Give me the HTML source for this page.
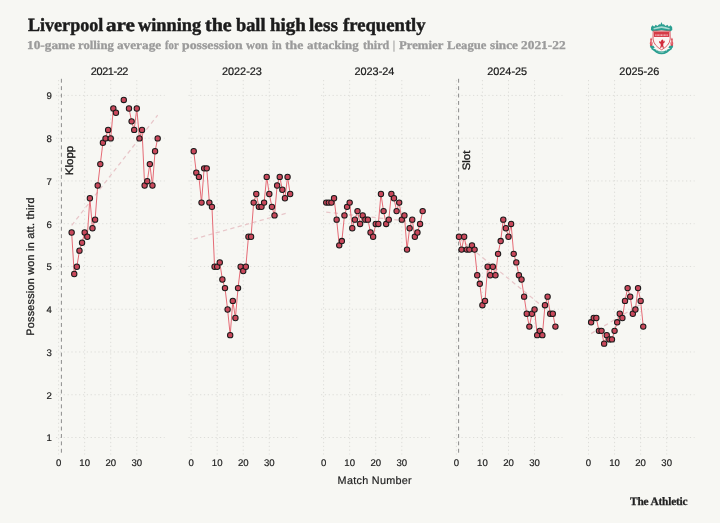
<!DOCTYPE html>
<html><head><meta charset="utf-8"><title>Liverpool are winning the ball high less frequently</title>
<style>
html,body{margin:0;padding:0;}
body{width:720px;height:523px;background:#f7f7f3;position:relative;overflow:hidden;font-family:"Liberation Sans",sans-serif;color:#1a1a1a;}
.wrap{position:absolute;left:0;top:0;width:720px;height:523px;will-change:transform;background:#f7f7f3;text-rendering:geometricPrecision}
.g{stroke:#ddddd9;stroke-width:1;stroke-dasharray:1.25 2.6;fill:none}
.m{stroke:#8c8c8c;stroke-width:1.0;stroke-dasharray:3.9 3.5;fill:none}
.t{stroke:#e8c6c9;stroke-width:1.25;stroke-dasharray:4.3 3.3;fill:none}
.l{stroke:#e4636f;stroke-width:0.95;fill:none;stroke-linejoin:round}
.c{fill:#c9485b;stroke:#1a1a1a;stroke-width:1.02}
.title span,.sub span{position:absolute;top:0;display:block;transform-origin:0 0;white-space:nowrap}
.title{position:absolute;left:27px;top:14.5px;font:bold 18.6px "Liberation Serif",serif;color:#1c1c1c;white-space:nowrap;line-height:22px;-webkit-text-stroke:0.45px #1c1c1c}
.sub{position:absolute;left:27px;top:37.9px;font:bold 12px "Liberation Serif",serif;color:#9b9b9b;white-space:nowrap;line-height:14px;-webkit-text-stroke:0.3px #9b9b9b}
.xt{position:absolute;top:457.9px;width:30px;text-align:center;font-size:9.6px;line-height:12px;color:#1e1e1e;-webkit-text-stroke:0.2px #1e1e1e}
.yt{position:absolute;left:20px;width:31.8px;text-align:right;font-size:9.6px;line-height:12px;color:#1e1e1e;-webkit-text-stroke:0.2px #1e1e1e}
.pt{position:absolute;top:65.9px;width:80px;text-align:center;font-size:10.9px;line-height:12px;color:#1a1a1a;-webkit-text-stroke:0.22px #1a1a1a}
.xl{position:absolute;left:324.8px;width:100px;top:475.45px;text-align:center;font-size:10.8px;line-height:13px;letter-spacing:0.3px;color:#1e1e1e;white-space:nowrap;-webkit-text-stroke:0.18px #1e1e1e}
.yl{position:absolute;left:31.2px;top:266.5px;width:0;height:0;}
.yl span{position:absolute;display:block;width:200px;left:-100px;top:-6.5px;text-align:center;font-size:10.8px;letter-spacing:0.25px;line-height:13px;transform:rotate(-90deg);-webkit-text-stroke:0.28px #1e1e1e;white-space:nowrap;color:#222}
.rot{position:absolute;width:0;height:0}
.rot span{position:absolute;display:block;width:80px;left:-40px;top:-6.5px;text-align:center;font-size:10.7px;line-height:13px;transform:rotate(-90deg) scaleX(1.07);white-space:nowrap;color:#1c1c1c;-webkit-text-stroke:0.35px #1c1c1c}
.logo{position:absolute;left:630px;top:496.2px;font:bold 11.4px "Liberation Serif",serif;letter-spacing:-0.2px;color:#222;-webkit-text-stroke:0.25px #222;white-space:nowrap;line-height:13px}
</style></head><body><div class="wrap">
<svg width="720" height="523" viewBox="0 0 720 523" style="position:absolute;left:0;top:0">
<line x1="55.99" x2="164.70" y1="437.50" y2="437.50" class="g"/>
<line x1="55.99" x2="164.70" y1="394.74" y2="394.74" class="g"/>
<line x1="55.99" x2="164.70" y1="351.98" y2="351.98" class="g"/>
<line x1="55.99" x2="164.70" y1="309.22" y2="309.22" class="g"/>
<line x1="55.99" x2="164.70" y1="266.46" y2="266.46" class="g"/>
<line x1="55.99" x2="164.70" y1="223.70" y2="223.70" class="g"/>
<line x1="55.99" x2="164.70" y1="180.94" y2="180.94" class="g"/>
<line x1="55.99" x2="164.70" y1="138.18" y2="138.18" class="g"/>
<line x1="55.99" x2="164.70" y1="95.42" y2="95.42" class="g"/>
<line x1="58.60" x2="58.60" y1="80.0" y2="454.5" class="g"/>
<line x1="84.67" x2="84.67" y1="80.0" y2="454.5" class="g"/>
<line x1="110.74" x2="110.74" y1="80.0" y2="454.5" class="g"/>
<line x1="136.81" x2="136.81" y1="80.0" y2="454.5" class="g"/>
<line x1="188.49" x2="297.20" y1="437.50" y2="437.50" class="g"/>
<line x1="188.49" x2="297.20" y1="394.74" y2="394.74" class="g"/>
<line x1="188.49" x2="297.20" y1="351.98" y2="351.98" class="g"/>
<line x1="188.49" x2="297.20" y1="309.22" y2="309.22" class="g"/>
<line x1="188.49" x2="297.20" y1="266.46" y2="266.46" class="g"/>
<line x1="188.49" x2="297.20" y1="223.70" y2="223.70" class="g"/>
<line x1="188.49" x2="297.20" y1="180.94" y2="180.94" class="g"/>
<line x1="188.49" x2="297.20" y1="138.18" y2="138.18" class="g"/>
<line x1="188.49" x2="297.20" y1="95.42" y2="95.42" class="g"/>
<line x1="191.10" x2="191.10" y1="80.0" y2="454.5" class="g"/>
<line x1="217.17" x2="217.17" y1="80.0" y2="454.5" class="g"/>
<line x1="243.24" x2="243.24" y1="80.0" y2="454.5" class="g"/>
<line x1="269.31" x2="269.31" y1="80.0" y2="454.5" class="g"/>
<line x1="320.99" x2="429.70" y1="437.50" y2="437.50" class="g"/>
<line x1="320.99" x2="429.70" y1="394.74" y2="394.74" class="g"/>
<line x1="320.99" x2="429.70" y1="351.98" y2="351.98" class="g"/>
<line x1="320.99" x2="429.70" y1="309.22" y2="309.22" class="g"/>
<line x1="320.99" x2="429.70" y1="266.46" y2="266.46" class="g"/>
<line x1="320.99" x2="429.70" y1="223.70" y2="223.70" class="g"/>
<line x1="320.99" x2="429.70" y1="180.94" y2="180.94" class="g"/>
<line x1="320.99" x2="429.70" y1="138.18" y2="138.18" class="g"/>
<line x1="320.99" x2="429.70" y1="95.42" y2="95.42" class="g"/>
<line x1="323.60" x2="323.60" y1="80.0" y2="454.5" class="g"/>
<line x1="349.67" x2="349.67" y1="80.0" y2="454.5" class="g"/>
<line x1="375.74" x2="375.74" y1="80.0" y2="454.5" class="g"/>
<line x1="401.81" x2="401.81" y1="80.0" y2="454.5" class="g"/>
<line x1="453.74" x2="562.45" y1="437.50" y2="437.50" class="g"/>
<line x1="453.74" x2="562.45" y1="394.74" y2="394.74" class="g"/>
<line x1="453.74" x2="562.45" y1="351.98" y2="351.98" class="g"/>
<line x1="453.74" x2="562.45" y1="309.22" y2="309.22" class="g"/>
<line x1="453.74" x2="562.45" y1="266.46" y2="266.46" class="g"/>
<line x1="453.74" x2="562.45" y1="223.70" y2="223.70" class="g"/>
<line x1="453.74" x2="562.45" y1="180.94" y2="180.94" class="g"/>
<line x1="453.74" x2="562.45" y1="138.18" y2="138.18" class="g"/>
<line x1="453.74" x2="562.45" y1="95.42" y2="95.42" class="g"/>
<line x1="456.35" x2="456.35" y1="80.0" y2="454.5" class="g"/>
<line x1="482.42" x2="482.42" y1="80.0" y2="454.5" class="g"/>
<line x1="508.49" x2="508.49" y1="80.0" y2="454.5" class="g"/>
<line x1="534.56" x2="534.56" y1="80.0" y2="454.5" class="g"/>
<line x1="585.89" x2="694.60" y1="437.50" y2="437.50" class="g"/>
<line x1="585.89" x2="694.60" y1="394.74" y2="394.74" class="g"/>
<line x1="585.89" x2="694.60" y1="351.98" y2="351.98" class="g"/>
<line x1="585.89" x2="694.60" y1="309.22" y2="309.22" class="g"/>
<line x1="585.89" x2="694.60" y1="266.46" y2="266.46" class="g"/>
<line x1="585.89" x2="694.60" y1="223.70" y2="223.70" class="g"/>
<line x1="585.89" x2="694.60" y1="180.94" y2="180.94" class="g"/>
<line x1="585.89" x2="694.60" y1="138.18" y2="138.18" class="g"/>
<line x1="585.89" x2="694.60" y1="95.42" y2="95.42" class="g"/>
<line x1="588.50" x2="588.50" y1="80.0" y2="454.5" class="g"/>
<line x1="614.57" x2="614.57" y1="80.0" y2="454.5" class="g"/>
<line x1="640.64" x2="640.64" y1="80.0" y2="454.5" class="g"/>
<line x1="666.71" x2="666.71" y1="80.0" y2="454.5" class="g"/>
<line x1="61.4" x2="61.4" y1="78.8" y2="454.5" class="m"/>
<line x1="458.6" x2="458.6" y1="78.8" y2="454.5" class="m"/>
<line x1="71.64" y1="225.41" x2="157.67" y2="115.09" class="t"/>
<line x1="193.71" y1="239.09" x2="288.60" y2="212.58" class="t"/>
<line x1="326.21" y1="212.15" x2="422.67" y2="222.84" class="t"/>
<line x1="458.96" y1="238.24" x2="555.42" y2="316.92" class="t"/>
<line x1="591.11" y1="333.59" x2="643.25" y2="302.81" class="t"/>
<polyline class="l" points="71.64,232.50 74.24,273.98 76.85,266.71 79.46,250.68 82.06,242.76 84.67,232.50 87.28,236.78 89.88,198.29 92.49,228.23 95.10,219.67 97.71,185.47 100.31,164.09 102.92,142.71 105.53,138.43 108.13,129.88 110.74,138.43 113.35,108.50 115.95,112.77"/>
<polyline class="l" points="128.99,108.50 131.60,121.33 134.20,129.88 136.81,108.50 139.42,138.43 142.02,129.88 144.63,185.47 147.24,181.19 149.84,164.09 152.45,185.47 155.06,151.26 157.67,138.43"/>
<polyline class="l" points="193.71,151.26 196.31,172.64 198.92,176.91 201.53,202.57 204.13,168.36 206.74,168.36 209.35,202.57 211.96,206.85 214.56,266.71 217.17,266.71 219.78,262.43 222.38,279.54 224.99,288.09 227.60,309.47 230.20,335.13 232.81,300.92 235.42,318.02 238.03,288.09 240.63,266.71 243.24,270.99 245.85,266.71 248.45,236.78 251.06,236.78 253.67,202.57 256.27,194.02 258.88,206.85 261.49,206.85 264.10,202.57 266.70,176.91 269.31,194.02 271.92,206.85 274.52,215.40 277.13,185.47 279.74,176.91 282.35,189.74 284.95,198.29 287.56,176.91 290.17,194.02"/>
<polyline class="l" points="326.21,202.57 328.81,202.57 331.42,202.57 334.03,198.29 336.64,219.67 339.24,245.33 341.85,241.05 344.46,215.40 347.06,206.85 349.67,202.57 352.28,228.23 354.88,219.67 357.49,211.12 360.10,223.95 362.71,215.40 365.31,219.67 367.92,219.67 370.53,232.50 373.13,236.78 375.74,223.95 378.35,223.95 380.95,194.02 383.56,211.12 386.17,223.95 388.78,219.67 391.38,194.02 393.99,198.29 396.60,211.12 399.20,202.57 401.81,219.67 404.42,215.40 407.02,249.61 409.63,228.23 412.24,219.67 414.85,236.78 417.45,232.50 420.06,223.95 422.67,211.12"/>
<polyline class="l" points="458.96,236.78 461.56,249.61 464.17,236.78 466.78,249.61 469.39,249.61 471.99,245.33 474.60,249.61 477.21,275.26 479.81,283.81 482.42,305.19 485.03,300.92 487.63,266.71 490.24,275.26 492.85,266.71 495.46,275.26 498.06,253.88 500.67,241.05 503.28,219.67 505.88,228.23 508.49,236.78 511.10,223.95 513.70,253.88 516.31,262.43 518.92,275.26 521.53,279.54 524.13,296.64 526.74,313.75 529.35,326.57 531.95,313.75 534.56,309.47 537.17,335.13 539.77,330.85 542.38,335.13 544.99,305.19 547.60,296.64 550.20,313.75 552.81,313.75 555.42,326.57"/>
<polyline class="l" points="591.11,322.30 593.71,318.02 596.32,318.02 598.93,330.85 601.53,330.85 604.14,343.68 606.75,335.13 609.36,339.40 611.96,339.40 614.57,330.85 617.18,322.30 619.78,313.75 622.39,318.02 625.00,300.92 627.61,288.09 630.21,296.64 632.82,313.75 635.43,309.47 638.03,288.09 640.64,300.92 643.25,326.57"/>
<circle cx="71.64" cy="232.50" r="2.68" class="c"/>
<circle cx="74.24" cy="273.98" r="2.68" class="c"/>
<circle cx="76.85" cy="266.71" r="2.68" class="c"/>
<circle cx="79.46" cy="250.68" r="2.68" class="c"/>
<circle cx="82.06" cy="242.76" r="2.68" class="c"/>
<circle cx="84.67" cy="232.50" r="2.68" class="c"/>
<circle cx="87.28" cy="236.78" r="2.68" class="c"/>
<circle cx="89.88" cy="198.29" r="2.68" class="c"/>
<circle cx="92.49" cy="228.23" r="2.68" class="c"/>
<circle cx="95.10" cy="219.67" r="2.68" class="c"/>
<circle cx="97.71" cy="185.47" r="2.68" class="c"/>
<circle cx="100.31" cy="164.09" r="2.68" class="c"/>
<circle cx="102.92" cy="142.71" r="2.68" class="c"/>
<circle cx="105.53" cy="138.43" r="2.68" class="c"/>
<circle cx="108.13" cy="129.88" r="2.68" class="c"/>
<circle cx="110.74" cy="138.43" r="2.68" class="c"/>
<circle cx="113.35" cy="108.50" r="2.68" class="c"/>
<circle cx="115.95" cy="112.77" r="2.68" class="c"/>
<circle cx="123.78" cy="99.95" r="2.68" class="c"/>
<circle cx="128.99" cy="108.50" r="2.68" class="c"/>
<circle cx="131.60" cy="121.33" r="2.68" class="c"/>
<circle cx="134.20" cy="129.88" r="2.68" class="c"/>
<circle cx="136.81" cy="108.50" r="2.68" class="c"/>
<circle cx="139.42" cy="138.43" r="2.68" class="c"/>
<circle cx="142.02" cy="129.88" r="2.68" class="c"/>
<circle cx="144.63" cy="185.47" r="2.68" class="c"/>
<circle cx="147.24" cy="181.19" r="2.68" class="c"/>
<circle cx="149.84" cy="164.09" r="2.68" class="c"/>
<circle cx="152.45" cy="185.47" r="2.68" class="c"/>
<circle cx="155.06" cy="151.26" r="2.68" class="c"/>
<circle cx="157.67" cy="138.43" r="2.68" class="c"/>
<circle cx="193.71" cy="151.26" r="2.68" class="c"/>
<circle cx="196.31" cy="172.64" r="2.68" class="c"/>
<circle cx="198.92" cy="176.91" r="2.68" class="c"/>
<circle cx="201.53" cy="202.57" r="2.68" class="c"/>
<circle cx="204.13" cy="168.36" r="2.68" class="c"/>
<circle cx="206.74" cy="168.36" r="2.68" class="c"/>
<circle cx="209.35" cy="202.57" r="2.68" class="c"/>
<circle cx="211.96" cy="206.85" r="2.68" class="c"/>
<circle cx="214.56" cy="266.71" r="2.68" class="c"/>
<circle cx="217.17" cy="266.71" r="2.68" class="c"/>
<circle cx="219.78" cy="262.43" r="2.68" class="c"/>
<circle cx="222.38" cy="279.54" r="2.68" class="c"/>
<circle cx="224.99" cy="288.09" r="2.68" class="c"/>
<circle cx="227.60" cy="309.47" r="2.68" class="c"/>
<circle cx="230.20" cy="335.13" r="2.68" class="c"/>
<circle cx="232.81" cy="300.92" r="2.68" class="c"/>
<circle cx="235.42" cy="318.02" r="2.68" class="c"/>
<circle cx="238.03" cy="288.09" r="2.68" class="c"/>
<circle cx="240.63" cy="266.71" r="2.68" class="c"/>
<circle cx="243.24" cy="270.99" r="2.68" class="c"/>
<circle cx="245.85" cy="266.71" r="2.68" class="c"/>
<circle cx="248.45" cy="236.78" r="2.68" class="c"/>
<circle cx="251.06" cy="236.78" r="2.68" class="c"/>
<circle cx="253.67" cy="202.57" r="2.68" class="c"/>
<circle cx="256.27" cy="194.02" r="2.68" class="c"/>
<circle cx="258.88" cy="206.85" r="2.68" class="c"/>
<circle cx="261.49" cy="206.85" r="2.68" class="c"/>
<circle cx="264.10" cy="202.57" r="2.68" class="c"/>
<circle cx="266.70" cy="176.91" r="2.68" class="c"/>
<circle cx="269.31" cy="194.02" r="2.68" class="c"/>
<circle cx="271.92" cy="206.85" r="2.68" class="c"/>
<circle cx="274.52" cy="215.40" r="2.68" class="c"/>
<circle cx="277.13" cy="185.47" r="2.68" class="c"/>
<circle cx="279.74" cy="176.91" r="2.68" class="c"/>
<circle cx="282.35" cy="189.74" r="2.68" class="c"/>
<circle cx="284.95" cy="198.29" r="2.68" class="c"/>
<circle cx="287.56" cy="176.91" r="2.68" class="c"/>
<circle cx="290.17" cy="194.02" r="2.68" class="c"/>
<circle cx="326.21" cy="202.57" r="2.68" class="c"/>
<circle cx="328.81" cy="202.57" r="2.68" class="c"/>
<circle cx="331.42" cy="202.57" r="2.68" class="c"/>
<circle cx="334.03" cy="198.29" r="2.68" class="c"/>
<circle cx="336.64" cy="219.67" r="2.68" class="c"/>
<circle cx="339.24" cy="245.33" r="2.68" class="c"/>
<circle cx="341.85" cy="241.05" r="2.68" class="c"/>
<circle cx="344.46" cy="215.40" r="2.68" class="c"/>
<circle cx="347.06" cy="206.85" r="2.68" class="c"/>
<circle cx="349.67" cy="202.57" r="2.68" class="c"/>
<circle cx="352.28" cy="228.23" r="2.68" class="c"/>
<circle cx="354.88" cy="219.67" r="2.68" class="c"/>
<circle cx="357.49" cy="211.12" r="2.68" class="c"/>
<circle cx="360.10" cy="223.95" r="2.68" class="c"/>
<circle cx="362.71" cy="215.40" r="2.68" class="c"/>
<circle cx="365.31" cy="219.67" r="2.68" class="c"/>
<circle cx="367.92" cy="219.67" r="2.68" class="c"/>
<circle cx="370.53" cy="232.50" r="2.68" class="c"/>
<circle cx="373.13" cy="236.78" r="2.68" class="c"/>
<circle cx="375.74" cy="223.95" r="2.68" class="c"/>
<circle cx="378.35" cy="223.95" r="2.68" class="c"/>
<circle cx="380.95" cy="194.02" r="2.68" class="c"/>
<circle cx="383.56" cy="211.12" r="2.68" class="c"/>
<circle cx="386.17" cy="223.95" r="2.68" class="c"/>
<circle cx="388.78" cy="219.67" r="2.68" class="c"/>
<circle cx="391.38" cy="194.02" r="2.68" class="c"/>
<circle cx="393.99" cy="198.29" r="2.68" class="c"/>
<circle cx="396.60" cy="211.12" r="2.68" class="c"/>
<circle cx="399.20" cy="202.57" r="2.68" class="c"/>
<circle cx="401.81" cy="219.67" r="2.68" class="c"/>
<circle cx="404.42" cy="215.40" r="2.68" class="c"/>
<circle cx="407.02" cy="249.61" r="2.68" class="c"/>
<circle cx="409.63" cy="228.23" r="2.68" class="c"/>
<circle cx="412.24" cy="219.67" r="2.68" class="c"/>
<circle cx="414.85" cy="236.78" r="2.68" class="c"/>
<circle cx="417.45" cy="232.50" r="2.68" class="c"/>
<circle cx="420.06" cy="223.95" r="2.68" class="c"/>
<circle cx="422.67" cy="211.12" r="2.68" class="c"/>
<circle cx="458.96" cy="236.78" r="2.68" class="c"/>
<circle cx="461.56" cy="249.61" r="2.68" class="c"/>
<circle cx="464.17" cy="236.78" r="2.68" class="c"/>
<circle cx="466.78" cy="249.61" r="2.68" class="c"/>
<circle cx="469.39" cy="249.61" r="2.68" class="c"/>
<circle cx="471.99" cy="245.33" r="2.68" class="c"/>
<circle cx="474.60" cy="249.61" r="2.68" class="c"/>
<circle cx="477.21" cy="275.26" r="2.68" class="c"/>
<circle cx="479.81" cy="283.81" r="2.68" class="c"/>
<circle cx="482.42" cy="305.19" r="2.68" class="c"/>
<circle cx="485.03" cy="300.92" r="2.68" class="c"/>
<circle cx="487.63" cy="266.71" r="2.68" class="c"/>
<circle cx="490.24" cy="275.26" r="2.68" class="c"/>
<circle cx="492.85" cy="266.71" r="2.68" class="c"/>
<circle cx="495.46" cy="275.26" r="2.68" class="c"/>
<circle cx="498.06" cy="253.88" r="2.68" class="c"/>
<circle cx="500.67" cy="241.05" r="2.68" class="c"/>
<circle cx="503.28" cy="219.67" r="2.68" class="c"/>
<circle cx="505.88" cy="228.23" r="2.68" class="c"/>
<circle cx="508.49" cy="236.78" r="2.68" class="c"/>
<circle cx="511.10" cy="223.95" r="2.68" class="c"/>
<circle cx="513.70" cy="253.88" r="2.68" class="c"/>
<circle cx="516.31" cy="262.43" r="2.68" class="c"/>
<circle cx="518.92" cy="275.26" r="2.68" class="c"/>
<circle cx="521.53" cy="279.54" r="2.68" class="c"/>
<circle cx="524.13" cy="296.64" r="2.68" class="c"/>
<circle cx="526.74" cy="313.75" r="2.68" class="c"/>
<circle cx="529.35" cy="326.57" r="2.68" class="c"/>
<circle cx="531.95" cy="313.75" r="2.68" class="c"/>
<circle cx="534.56" cy="309.47" r="2.68" class="c"/>
<circle cx="537.17" cy="335.13" r="2.68" class="c"/>
<circle cx="539.77" cy="330.85" r="2.68" class="c"/>
<circle cx="542.38" cy="335.13" r="2.68" class="c"/>
<circle cx="544.99" cy="305.19" r="2.68" class="c"/>
<circle cx="547.60" cy="296.64" r="2.68" class="c"/>
<circle cx="550.20" cy="313.75" r="2.68" class="c"/>
<circle cx="552.81" cy="313.75" r="2.68" class="c"/>
<circle cx="555.42" cy="326.57" r="2.68" class="c"/>
<circle cx="591.11" cy="322.30" r="2.68" class="c"/>
<circle cx="593.71" cy="318.02" r="2.68" class="c"/>
<circle cx="596.32" cy="318.02" r="2.68" class="c"/>
<circle cx="598.93" cy="330.85" r="2.68" class="c"/>
<circle cx="601.53" cy="330.85" r="2.68" class="c"/>
<circle cx="604.14" cy="343.68" r="2.68" class="c"/>
<circle cx="606.75" cy="335.13" r="2.68" class="c"/>
<circle cx="609.36" cy="339.40" r="2.68" class="c"/>
<circle cx="611.96" cy="339.40" r="2.68" class="c"/>
<circle cx="614.57" cy="330.85" r="2.68" class="c"/>
<circle cx="617.18" cy="322.30" r="2.68" class="c"/>
<circle cx="619.78" cy="313.75" r="2.68" class="c"/>
<circle cx="622.39" cy="318.02" r="2.68" class="c"/>
<circle cx="625.00" cy="300.92" r="2.68" class="c"/>
<circle cx="627.61" cy="288.09" r="2.68" class="c"/>
<circle cx="630.21" cy="296.64" r="2.68" class="c"/>
<circle cx="632.82" cy="313.75" r="2.68" class="c"/>
<circle cx="635.43" cy="309.47" r="2.68" class="c"/>
<circle cx="638.03" cy="288.09" r="2.68" class="c"/>
<circle cx="640.64" cy="300.92" r="2.68" class="c"/>
<circle cx="643.25" cy="326.57" r="2.68" class="c"/>
</svg>
<div class="title"><span style="left:0.56px;transform:scaleX(0.9714)">Liverpool</span> <span style="left:78.93px;transform:scaleX(1.1347)">are</span> <span style="left:110.60px;transform:scaleX(0.9859)">winning</span> <span style="left:178.33px;transform:scaleX(1.0804)">the</span> <span style="left:209.05px;transform:scaleX(0.9864)">ball</span> <span style="left:242.84px;transform:scaleX(1.0216)">high</span> <span style="left:282.14px;transform:scaleX(1.0349)">less</span> <span style="left:315.50px;transform:scaleX(1.0043)">frequently</span> </div>
<div class="sub"><span style="left:-0.03px;transform:scaleX(1.1106)">10-game</span> <span style="left:50.63px;transform:scaleX(1.0607)">rolling</span> <span style="left:89.92px;transform:scaleX(1.1038)">average</span> <span style="left:138.10px;transform:scaleX(0.8918)">for</span> <span style="left:155.20px;transform:scaleX(1.1507)">possession</span> <span style="left:219.40px;transform:scaleX(1.0259)">won</span> <span style="left:244.70px;transform:scaleX(0.97)">in</span> <span style="left:258.30px;transform:scaleX(1.1438)">the</span> <span style="left:280.23px;transform:scaleX(1.0785)">attacking</span> <span style="left:335.90px;transform:scaleX(1.0115)">third</span> <span style="left:366.13px;transform:scaleX(0.7333)">|</span> <span style="left:371.90px;transform:scaleX(1.0611)">Premier</span> <span style="left:420.10px;transform:scaleX(1.055)">League</span> <span style="left:463.02px;transform:scaleX(1.104)">since</span> <span style="left:494.12px;transform:scaleX(1.1165)">2021-22</span> </div>
<div class="xt" style="left:43.60px">0</div>
<div class="xt" style="left:69.67px">10</div>
<div class="xt" style="left:95.74px">20</div>
<div class="xt" style="left:121.81px">30</div>
<div class="xt" style="left:176.10px">0</div>
<div class="xt" style="left:202.17px">10</div>
<div class="xt" style="left:228.24px">20</div>
<div class="xt" style="left:254.31px">30</div>
<div class="xt" style="left:308.60px">0</div>
<div class="xt" style="left:334.67px">10</div>
<div class="xt" style="left:360.74px">20</div>
<div class="xt" style="left:386.81px">30</div>
<div class="xt" style="left:441.35px">0</div>
<div class="xt" style="left:467.42px">10</div>
<div class="xt" style="left:493.49px">20</div>
<div class="xt" style="left:519.56px">30</div>
<div class="xt" style="left:573.50px">0</div>
<div class="xt" style="left:599.57px">10</div>
<div class="xt" style="left:625.64px">20</div>
<div class="xt" style="left:651.71px">30</div>
<div class="yt" style="top:433.35px">1</div>
<div class="yt" style="top:390.59px">2</div>
<div class="yt" style="top:347.83px">3</div>
<div class="yt" style="top:305.07px">4</div>
<div class="yt" style="top:262.31px">5</div>
<div class="yt" style="top:219.55px">6</div>
<div class="yt" style="top:176.79px">7</div>
<div class="yt" style="top:134.03px">8</div>
<div class="yt" style="top:91.27px">9</div>
<div class="pt" style="left:69.44px;letter-spacing:-0.4px">2021-22</div>
<div class="pt" style="left:201.94px">2022-23</div>
<div class="pt" style="left:334.44px">2023-24</div>
<div class="pt" style="left:467.19px">2024-25</div>
<div class="pt" style="left:599.34px">2025-26</div>
<div class="xl">Match Number</div>
<div class="yl"><span>Possession won in att. third</span></div>
<div class="rot" style="left:69.5px;top:160.0px"><span>Klopp</span></div>
<div class="rot" style="left:467.4px;top:160.3px"><span>Slot</span></div>
<div class="logo">The Athletic</div>
<svg viewBox="0 0 565 523" width="54" height="50" style="position:absolute;left:636px;top:10px">
<defs><filter id="cb" x="-10%" y="-10%" width="120%" height="120%"><feGaussianBlur stdDeviation="3.4"/></filter></defs>
<g filter="url(#cb)">
<path d="M156 210 L158 178 L174 160 L190 174 L206 154 L224 168 L242 148 L256 152 L266 126 L278 152 L292 148 L310 168 L328 154 L344 174 L360 160 L378 178 L380 210 L358 226 L300 217 L268 213 L236 217 L178 226 Z" fill="#2c9f91"/>
<path d="M182 192 L226 177 L268 169 L310 177 L354 192 L350 204 L268 187 L186 204 Z" fill="#bfe5de" opacity=".85"/>
<path d="M180 221 L356 221 L358 304 Q350 372 268 416 Q186 372 178 304 Z" fill="#fcf6f4" stroke="#d9535e" stroke-width="10"/>
<rect x="188" y="228" width="160" height="54" fill="#d63a47"/>
<path d="M202 262 H336" stroke="#f9d6d8" stroke-width="14" stroke-dasharray="10 5"/>
<path d="M266 314 L278 308 L288 316 L282 326 L296 328 L304 316 L299 340 L286 350 L285 374 L294 394 L280 394 L272 378 L264 394 L250 394 L259 374 L257 352 L244 344 L240 322 L252 332 L262 326 Z" fill="#d12c3a"/>
<path d="M158 287 Q174 308 166 328 Q184 350 170 376 L148 376 Q136 350 150 328 Q142 308 158 287 Z" fill="#dc4753"/>
<path d="M376 287 Q360 308 368 328 Q350 350 364 376 L386 376 Q398 350 384 328 Q392 308 376 287 Z" fill="#dc4753"/>
<path d="M157 310 Q162 335 158 360" stroke="#f7d2d4" stroke-width="5" fill="none"/>
<path d="M377 310 Q372 335 376 360" stroke="#f7d2d4" stroke-width="5" fill="none"/>
<path d="M144 374 L184 374 L196 398 L154 398 Z" fill="#2c9f91"/>
<path d="M390 374 L350 374 L338 398 L380 398 Z" fill="#2c9f91"/>
<path d="M154 384 Q194 408 212 416 L220 432 Q268 462 316 432 L324 416 Q342 408 382 384 L374 410 Q338 434 326 446 Q268 480 210 446 Q198 434 162 410 Z" fill="#2c9f91"/>
<path d="M220 420 Q268 446 316 420 L314 444 Q268 468 222 444 Z" fill="#2c9f91"/>
<path d="M236 438 Q268 452 300 438" stroke="#cdece6" stroke-width="7" fill="none" stroke-dasharray="8 5"/>
</g>
</svg>

</div></body></html>
